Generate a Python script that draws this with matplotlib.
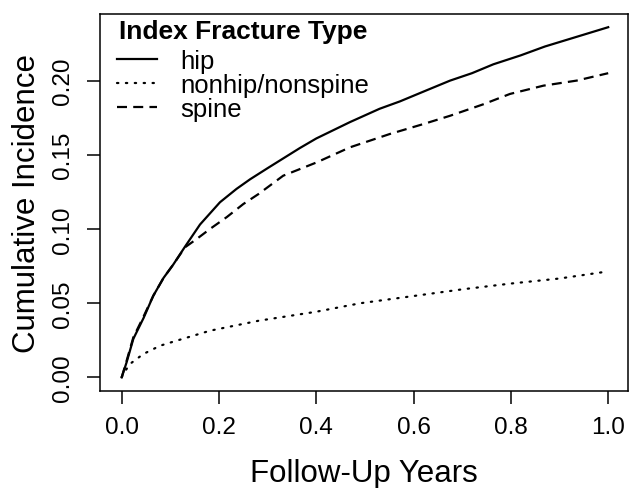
import matplotlib
matplotlib.use("Agg")
import matplotlib.pyplot as plt
import numpy as np

# ---- data ----
hip_x = [0, 0.01, 0.024, 0.045, 0.065, 0.086, 0.106, 0.13, 0.161, 0.202, 0.236, 0.264,
         0.30, 0.366, 0.40, 0.469, 0.53, 0.572, 0.627, 0.675, 0.72, 0.764, 0.82, 0.87,
         0.90, 0.95, 1.0]
hip_y = [0, 0.010, 0.026, 0.040, 0.055, 0.067, 0.076, 0.088, 0.103, 0.118, 0.127, 0.1335,
         0.141, 0.1545, 0.161, 0.172, 0.181, 0.186, 0.1935, 0.200, 0.205, 0.211, 0.217, 0.223,
         0.226, 0.231, 0.236]

nonhip_x = [0, 0.003, 0.017, 0.0445, 0.079, 0.113, 0.1815, 0.281, 0.40, 0.49, 0.60, 0.70,
            0.80, 0.90, 1.0]
nonhip_y = [0, 0.0022, 0.009, 0.0157, 0.0213, 0.0247, 0.0314, 0.0381, 0.0442, 0.0499,
            0.0548, 0.0593, 0.0632, 0.0666, 0.0714]

spine_x = [0, 0.01, 0.024, 0.045, 0.065, 0.086, 0.106, 0.13, 0.154, 0.1815, 0.216, 0.25,
           0.281, 0.332, 0.401, 0.469, 0.551, 0.62, 0.675, 0.743, 0.798, 0.867, 0.935, 1.0]
spine_y = [0, 0.011, 0.027, 0.041, 0.055, 0.067, 0.076, 0.0876, 0.0932, 0.100, 0.108, 0.1168,
           0.1235, 0.1359, 0.1449, 0.155, 0.164, 0.1707, 0.1763, 0.184, 0.191, 0.1966, 0.200,
           0.205]

series_labels = ["hip", "nonhip/nonspine", "spine"]
legend_title = "Index Fracture Type"
x_ticks = [0.0, 0.2, 0.4, 0.6, 0.8, 1.0]
x_ticklabels = ["0.0", "0.2", "0.4", "0.6", "0.8", "1.0"]
y_ticks = [0.00, 0.05, 0.10, 0.15, 0.20]
y_ticklabels = ["0.00", "0.05", "0.10", "0.15", "0.20"]
x_label = "Follow-Up Years"
y_label = "Cumulative Incidence"

# ---- style ----
plt.rcParams['font.family'] = ['Liberation Sans', 'DejaVu Sans']

fig = plt.figure(figsize=(6.30, 4.89), dpi=100)
W, H = 630, 489
ax = fig.add_axes([100 / W, 1 - 391.5 / H, 528 / W, 376.5 / H])

lw = 1.6
ax.plot(hip_x, hip_y, color='black', lw=lw, linestyle='-', label=series_labels[0])
ax.plot(nonhip_x, nonhip_y, color='black', lw=lw, linestyle=(0, (0.6, 3.4)),
        dash_capstyle='round', label=series_labels[1])
ax.plot(spine_x, spine_y, color='black', lw=lw, linestyle=(0, (4.5, 2.8)), label=series_labels[2])

ax.set_xlim(-0.0446, 1.0407)
ax.set_ylim(-0.0089, 0.2449)

ax.set_xticks(x_ticks)
ax.set_xticklabels(x_ticklabels)
ax.set_yticks(y_ticks)
ax.set_yticklabels(y_ticklabels, rotation=90, va='center')

ax.tick_params(axis='both', direction='out', length=9.5, width=1.1, labelsize=17.5, color='black')
ax.tick_params(axis='x', pad=8.5)
ax.tick_params(axis='y', pad=9)
for s in ax.spines.values():
    s.set_linewidth(1.1)

ax.set_xlabel(x_label, fontsize=22.5, labelpad=14.5)
ax.set_ylabel(y_label, fontsize=22.5, labelpad=7.5)

leg = ax.legend(title=legend_title, loc='upper left', frameon=False,
                bbox_to_anchor=(117 / W, 1 - 20 / H), bbox_transform=fig.transFigure,
                fontsize=18.5, title_fontproperties={'weight': 'bold', 'size': 19},
                handlelength=1.55, handletextpad=0.9, labelspacing=0.0,
                borderpad=0, borderaxespad=0)
leg._legend_box.sep = 4.0

fig.savefig("out.png", dpi=100)
